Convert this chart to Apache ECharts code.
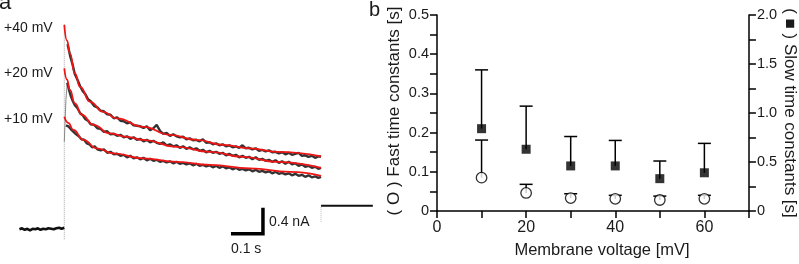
<!DOCTYPE html>
<html><head><meta charset="utf-8">
<script src="https://cdn.jsdelivr.net/npm/echarts@6/dist/echarts.min.js"></script>
<style>html,body{margin:0;padding:0;background:#fff}#c{width:799px;height:264px}</style>
</head><body><div id="c"></div>
<script>
// ---------- panel b data ----------
const voltages = [10, 20, 30, 40, 50, 60];
const fastMean = [0.085, 0.046, 0.033, 0.031, 0.028, 0.031];
const fastErrTop = [0.181, 0.068, 0.044, 0.040, 0.038, 0.040];
const slowMean = [0.84, 0.63, 0.46, 0.46, 0.33, 0.39];
const slowErrTop = [1.44, 1.07, 0.76, 0.72, 0.51, 0.69];
const xTickLabels = ['0', '20', '40', '60'];
const leftTickLabels = ['0', '0.1', '0.2', '0.3', '0.4', '0.5'];
const rightTickLabels = ['0', '0.5', '1.0', '1.5', '2.0'];

// ---------- panel a data (time [s], current [nA]) ----------
const fit40 = [[0,4.09],[0.008,3.78],[0.017,3.52],[0.032,3.12],[0.048,2.85],[0.078,2.55],[0.118,2.35],[0.159,2.22],[0.239,2.05],[0.32,1.89],[0.401,1.79],[0.482,1.69],[0.563,1.62],[0.644,1.55],[0.778,1.46]];
const fit20 = [[0,3.22],[0.008,3.0],[0.017,2.79],[0.032,2.52],[0.053,2.29],[0.088,2.09],[0.138,1.92],[0.19,1.85],[0.239,1.79],[0.341,1.65],[0.442,1.55],[0.542,1.45],[0.644,1.35],[0.778,1.23]];
const fit10 = [[0,2.25],[0.012,2.13],[0.027,1.99],[0.058,1.79],[0.098,1.62],[0.148,1.52],[0.239,1.42],[0.341,1.35],[0.442,1.29],[0.563,1.22],[0.684,1.15],[0.778,1.07]];
const trace40 = [[0.010,3.70],[0.018,3.46],[0.025,3.30],[0.032,3.10],[0.040,2.99],[0.048,2.86],[0.056,2.76],[0.064,2.70],[0.072,2.60],[0.080,2.56],[0.090,2.47],[0.100,2.44],[0.110,2.37],[0.120,2.36],[0.130,2.30],[0.140,2.29],[0.150,2.22],[0.160,2.24],[0.170,2.17],[0.180,2.16],[0.190,2.12],[0.200,2.14],[0.210,2.08],[0.220,2.07],[0.230,2.06],[0.240,2.03],[0.250,2.06],[0.260,1.98],[0.270,2.02],[0.280,2.09],[0.290,1.97],[0.300,1.91],[0.310,1.93],[0.320,1.87],[0.330,1.90],[0.340,1.86],[0.350,1.84],[0.360,1.85],[0.370,1.80],[0.380,1.82],[0.390,1.78],[0.400,1.79],[0.410,1.76],[0.420,1.80],[0.430,1.73],[0.440,1.74],[0.450,1.70],[0.460,1.72],[0.470,1.68],[0.480,1.70],[0.490,1.66],[0.500,1.68],[0.510,1.64],[0.520,1.66],[0.530,1.63],[0.540,1.68],[0.550,1.62],[0.560,1.63],[0.570,1.60],[0.580,1.62],[0.590,1.57],[0.600,1.59],[0.610,1.56],[0.620,1.58],[0.630,1.54],[0.640,1.55],[0.650,1.52],[0.660,1.54],[0.670,1.50],[0.680,1.53],[0.690,1.49],[0.700,1.51],[0.710,1.53],[0.720,1.47],[0.730,1.48],[0.740,1.45],[0.750,1.47],[0.760,1.43],[0.770,1.46],[0.778,1.45]];
const onset20 = [[0.000,1.75],[0.005,2.60],[0.009,2.93]];
const trace20 = [[0.009,2.93],[0.014,2.80],[0.020,2.66],[0.026,2.56],[0.032,2.48],[0.040,2.42],[0.048,2.32],[0.056,2.28],[0.064,2.20],[0.072,2.17],[0.080,2.10],[0.090,2.09],[0.100,2.02],[0.110,2.01],[0.120,1.95],[0.130,1.96],[0.140,1.90],[0.150,1.91],[0.160,1.87],[0.170,1.89],[0.180,1.84],[0.190,1.86],[0.200,1.81],[0.210,1.84],[0.220,1.79],[0.230,1.81],[0.240,1.76],[0.250,1.79],[0.260,1.74],[0.270,1.77],[0.280,1.73],[0.290,1.71],[0.300,1.74],[0.310,1.68],[0.320,1.70],[0.330,1.66],[0.340,1.68],[0.350,1.63],[0.360,1.66],[0.370,1.61],[0.380,1.64],[0.390,1.60],[0.400,1.62],[0.410,1.57],[0.420,1.59],[0.430,1.54],[0.440,1.57],[0.450,1.53],[0.460,1.55],[0.470,1.51],[0.480,1.53],[0.490,1.48],[0.500,1.51],[0.510,1.47],[0.520,1.49],[0.530,1.44],[0.540,1.47],[0.550,1.43],[0.560,1.45],[0.570,1.40],[0.580,1.44],[0.590,1.39],[0.600,1.41],[0.610,1.37],[0.620,1.39],[0.630,1.35],[0.640,1.38],[0.650,1.33],[0.660,1.36],[0.670,1.31],[0.680,1.35],[0.690,1.30],[0.700,1.32],[0.710,1.27],[0.720,1.30],[0.730,1.25],[0.740,1.27],[0.750,1.23],[0.760,1.25],[0.770,1.21],[0.778,1.23]];
const trace10 = [[0.005,2.08],[0.012,2.06],[0.020,2.00],[0.028,1.95],[0.036,1.90],[0.044,1.86],[0.052,1.80],[0.060,1.79],[0.068,1.72],[0.076,1.70],[0.084,1.64],[0.092,1.66],[0.100,1.60],[0.110,1.58],[0.120,1.60],[0.130,1.53],[0.140,1.55],[0.150,1.50],[0.160,1.51],[0.170,1.47],[0.180,1.49],[0.190,1.44],[0.200,1.47],[0.210,1.42],[0.220,1.44],[0.230,1.40],[0.240,1.43],[0.250,1.38],[0.260,1.41],[0.270,1.37],[0.280,1.39],[0.290,1.35],[0.300,1.37],[0.310,1.34],[0.320,1.36],[0.330,1.32],[0.340,1.35],[0.350,1.31],[0.360,1.33],[0.370,1.30],[0.380,1.32],[0.390,1.28],[0.400,1.31],[0.410,1.27],[0.420,1.29],[0.430,1.26],[0.440,1.28],[0.450,1.24],[0.460,1.27],[0.470,1.23],[0.480,1.26],[0.490,1.22],[0.500,1.24],[0.510,1.20],[0.520,1.23],[0.530,1.19],[0.540,1.21],[0.550,1.18],[0.560,1.20],[0.570,1.16],[0.580,1.19],[0.590,1.15],[0.600,1.17],[0.610,1.14],[0.620,1.16],[0.630,1.12],[0.640,1.15],[0.650,1.11],[0.660,1.13],[0.670,1.10],[0.680,1.12],[0.690,1.08],[0.700,1.11],[0.710,1.07],[0.720,1.09],[0.730,1.05],[0.740,1.08],[0.750,1.04],[0.760,1.06],[0.770,1.03],[0.778,1.05]];
const baseline = [[-0.136,0.00],[-0.128,0.02],[-0.120,-0.01],[-0.112,0.01],[-0.104,-0.02],[-0.096,0.01],[-0.088,0.00],[-0.080,0.02],[-0.072,-0.01],[-0.064,0.01],[-0.056,0.00],[-0.048,0.02],[-0.040,0.01],[-0.032,0.00],[-0.024,0.02],[-0.016,0.03],[-0.008,0.01],[0,0.03]];
const tail = [[0.778,0.47],[0.935,0.47]];
const onsetMarker = [[0,-0.2],[0,4.1]];
const offsetMarker = [[0.778,0.15],[0.778,0.47]];
const scaleBar = [[0.505,-0.09],[0.602,-0.09],[0.602,0.43]];
const traceLabels = ['+40 mV', '+20 mV', '+10 mV'];

const FONT = 'Liberation Sans, Arial, sans-serif';
const TXT = '#1a1a1a';
const chart = echarts.init(document.getElementById('c'), null, {renderer: 'canvas'});

function lineSeries(data, color, width, extra) {
  return Object.assign({type: 'line', xAxisIndex: 0, yAxisIndex: 0, data: data, symbol: 'none',
    silent: true, lineStyle: {color: color, width: width}}, extra || {});
}
function errBar(means, tops, yIdx) {
  return {type: 'custom', xAxisIndex: 1, yAxisIndex: yIdx, z: 1, silent: true,
    data: voltages.map((v, i) => [v, means[i], tops[i]]),
    renderItem: (p, api) => {
      const a = api.coord([api.value(0), api.value(1)]);
      const b = api.coord([api.value(0), api.value(2)]);
      return {type: 'group', children: [
        {type: 'line', shape: {x1: a[0], y1: a[1], x2: b[0], y2: b[1]}, style: {stroke: '#000', lineWidth: 1.5}},
        {type: 'line', shape: {x1: b[0] - 6.5, y1: b[1], x2: b[0] + 6.5, y2: b[1]}, style: {stroke: '#000', lineWidth: 1.5}}
      ]};
    }};
}
const axisBase = {
  axisLine: {show: true, onZero: false, lineStyle: {color: '#000', width: 1.5}},
  axisTick: {show: true, inside: false, length: 7, lineStyle: {color: '#000', width: 1.5}},
  splitLine: {show: false}
};
function labelOf(list, v, step) {
  const k = Math.round(v / step);
  return list[k] !== undefined && Math.abs(v - k * step) < 1e-6 ? list[k] : '';
}

chart.setOption({
  animation: false,
  backgroundColor: '#fff',
  textStyle: {fontFamily: FONT},
  grid: [
    {left: 14.8, top: 9.3, width: 363, height: 240},
    {left: 437, top: 15, width: 318, height: 200}
  ],
  xAxis: [
    {gridIndex: 0, type: 'value', min: -0.15, max: 0.95, show: false},
    Object.assign({gridIndex: 1, type: 'value', min: 0, max: 70, interval: 10,
      axisLabel: {formatter: v => labelOf(xTickLabels, v, 20), fontSize: 16, color: TXT, margin: 9, fontFamily: FONT},
      name: 'Membrane voltage [mV]', nameLocation: 'middle', nameGap: 31,
      nameTextStyle: {fontSize: 16.5, color: TXT, fontFamily: FONT, padding: [0, 0, 0, 18]}}, axisBase)
  ],
  yAxis: [
    {gridIndex: 0, type: 'value', min: -0.4, max: 4.4, show: false},
    Object.assign({gridIndex: 1, type: 'value', min: 0, max: 0.5, interval: 0.05, position: 'left',
      axisLabel: {formatter: v => labelOf(leftTickLabels, v, 0.1), fontSize: 14.5, color: TXT, margin: 8, fontFamily: FONT},
      name: '( O ) Fast time constants [s]', nameLocation: 'middle', nameGap: 34,
      nameTextStyle: {fontSize: 17, color: TXT, fontFamily: FONT, padding: [0, 0, 0, 4]}}, axisBase),
    Object.assign({gridIndex: 1, type: 'value', min: 0, max: 2, interval: 0.25, position: 'right',
      axisLabel: {formatter: v => labelOf(rightTickLabels, v, 0.5), fontSize: 14.5, color: TXT, margin: 8, fontFamily: FONT},
      name: '( \u25A0 ) Slow time constants [s]', nameLocation: 'middle', nameGap: 30, nameRotate: -90,
      nameTextStyle: {fontSize: 17, color: TXT, fontFamily: FONT}}, axisBase)
  ],
  series: [
    lineSeries(onsetMarker, '#aaa', 1, {lineStyle: {color: '#aaa', width: 1, type: 'dotted'}}),
    lineSeries(offsetMarker, '#bbb', 1, {lineStyle: {color: '#bbb', width: 1, type: 'dotted'}}),
    lineSeries(onset20, '#888', 1),
    lineSeries(baseline, '#111', 2.6),
    lineSeries(trace40, '#333', 2.4),
    lineSeries(trace20, '#333', 2.4),
    lineSeries(trace10, '#333', 2.4),
    lineSeries(fit40, '#ee1515', 1.8, {smooth: true, smoothMonotone: 'x', z: 3}),
    lineSeries(fit20, '#ee1515', 1.8, {smooth: true, smoothMonotone: 'x', z: 3}),
    lineSeries(fit10, '#ee1515', 1.8, {smooth: true, smoothMonotone: 'x', z: 3}),
    lineSeries(tail, '#111', 2),
    lineSeries(scaleBar, '#000', 3.5, {lineStyle: {color: '#000', width: 3.5, cap: 'butt', join: 'miter'}}),
    errBar(fastMean, fastErrTop, 1),
    errBar(slowMean, slowErrTop, 2),
    {type: 'scatter', xAxisIndex: 1, yAxisIndex: 1, z: 5, silent: true, symbol: 'circle', symbolSize: 10.5,
      itemStyle: {color: '#fff', borderColor: '#000', borderWidth: 1.3}, data: voltages.map((v, i) => [v, fastMean[i]])},
    {type: 'scatter', xAxisIndex: 1, yAxisIndex: 2, z: 5, silent: true, symbol: 'rect', symbolSize: 9,
      itemStyle: {color: '#000'}, data: voltages.map((v, i) => [v, slowMean[i]])}
  ],
  graphic: [
    {type: 'text', left: -1, top: -8, style: {text: 'a', fontSize: 22, fill: TXT, fontFamily: FONT}},
    {type: 'text', left: 369, top: 0, style: {text: 'b', fontSize: 20, fill: TXT, fontFamily: FONT}},
    {type: 'text', x: 4, y: 28, style: {text: traceLabels[0], fontSize: 14, fill: TXT, fontFamily: FONT, verticalAlign: 'middle'}},
    {type: 'text', x: 4, y: 73, style: {text: traceLabels[1], fontSize: 14, fill: TXT, fontFamily: FONT, verticalAlign: 'middle'}},
    {type: 'text', x: 4, y: 119, style: {text: traceLabels[2], fontSize: 14, fill: TXT, fontFamily: FONT, verticalAlign: 'middle'}},
    {type: 'text', x: 269, y: 222, style: {text: '0.4 nA', fontSize: 14, fill: TXT, fontFamily: FONT, verticalAlign: 'middle'}},
    {type: 'text', x: 231, y: 249, style: {text: '0.1 s', fontSize: 14, fill: TXT, fontFamily: FONT, verticalAlign: 'middle'}}
  ]
});
</script></body></html>
